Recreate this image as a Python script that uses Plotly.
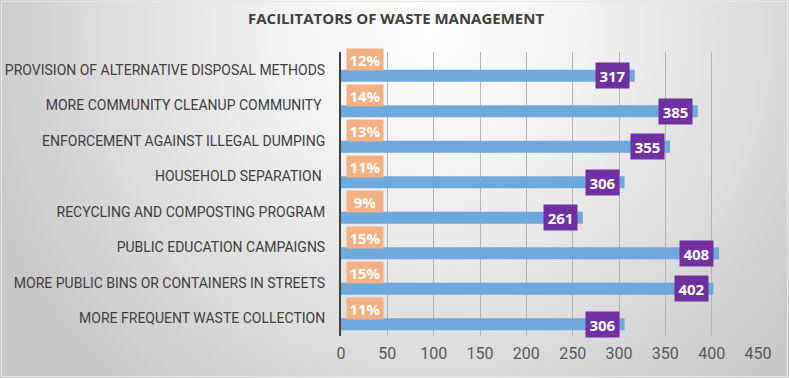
import base64
import plotly.graph_objects as go

categories = [
    "PROVISION OF ALTERNATIVE DISPOSAL METHODS",
    "MORE COMMUNITY CLEANUP COMMUNITY\u00a0",
    "ENFORCEMENT AGAINST ILLEGAL DUMPING",
    "HOUSEHOLD SEPARATION\u00a0",
    "RECYCLING AND COMPOSTING PROGRAM",
    "PUBLIC EDUCATION CAMPAIGNS",
    "MORE PUBLIC BINS OR CONTAINERS IN STREETS",
    "MORE FREQUENT WASTE COLLECTION",
]
counts = [317, 385, 355, 306, 261, 408, 402, 306]
percents = ["12%", "14%", "13%", "11%", "9%", "15%", "15%", "11%"]
x_ticks = [0, 50, 100, 150, 200, 250, 300, 350, 400, 450]

W, H = 789, 378
NARROW = "Roboto, sans-serif"
BOLD = "Open Sans, Liberation Sans, sans-serif"

svg = f'''<svg xmlns="http://www.w3.org/2000/svg" width="{W}" height="{H}" viewBox="0 0 {W} {H}" preserveAspectRatio="none">
<defs><radialGradient id="g" gradientUnits="userSpaceOnUse" cx="430" cy="30" r="470">
<stop offset="0" stop-color="#ffffff"/><stop offset="0.3" stop-color="#f3f3f3"/>
<stop offset="0.7" stop-color="#dcdcdc"/><stop offset="1" stop-color="#c8c8c8"/></radialGradient></defs>
<rect x="0" y="0" width="{W}" height="{H}" fill="url(#g)"/>
<rect x="1.5" y="1.5" width="{W-3}" height="{H-3}" fill="none" stroke="#e6e6e6" stroke-width="1"/>
</svg>'''
bg_uri = "data:image/svg+xml;base64," + base64.b64encode(svg.encode()).decode()

fig = go.Figure()
fig.add_trace(go.Bar(
    y=categories, x=counts, orientation="h",
    marker=dict(color="#6FA8DC", line=dict(width=0)),
    width=0.34, offset=0.0, hoverinfo="x+y",
))

annotations = []
for cat, c, p in zip(categories, counts, percents):
    annotations.append(dict(
        x=0, y=cat, xref="x", yref="y", text=f"<b>{p}</b>", showarrow=False,
        xanchor="left", yanchor="middle", xshift=5, yshift=10,
        bgcolor="#F4B183", font=dict(color="white", size=15, family=BOLD),
        width=34, height=19, borderpad=1,
    ))
    annotations.append(dict(
        x=c, y=cat, xref="x", yref="y", text=f"<b>{c}</b>", showarrow=False,
        xanchor="right", yanchor="middle", xshift=-5, yshift=-6,
        bgcolor="#7030A0", font=dict(color="white", size=15, family=BOLD),
        width=31, height=23, borderpad=1,
    ))
annotations.append(dict(
    x=396 / W, y=1 - 18 / H, xref="paper", yref="paper",
    text="<b>FACILITATORS OF WASTE MANAGEMENT</b>", showarrow=False,
    xanchor="center", yanchor="middle",
    font=dict(color="#404040", size=15, family=BOLD),
))

fig.update_layout(
    width=W, height=H,
    margin=dict(l=0, r=0, t=0, b=0, pad=0, autoexpand=False),
    paper_bgcolor="#e8e8e8", plot_bgcolor="rgba(0,0,0,0)",
    showlegend=False,
    images=[dict(source=bg_uri, xref="paper", yref="paper", x=0, y=1,
                 sizex=1, sizey=1, sizing="stretch", layer="below",
                 xanchor="left", yanchor="top")],
    annotations=annotations,
    xaxis=dict(
        domain=[341 / W, 758 / W], range=[0, 450],
        tickvals=x_ticks, ticktext=[str(v) for v in x_ticks],
        showgrid=True, gridcolor="#b4b4b4", gridwidth=1,
        zeroline=False, showline=False, ticks="", automargin=False,
        tickfont=dict(color="#595959", size=16, family=NARROW),
        ticklabelstandoff=6,
    ),
    yaxis=dict(
        domain=[1 - 336 / H, 1 - 52 / H],
        categoryorder="array", categoryarray=categories,
        range=[len(categories) - 0.5, -0.5],
        showgrid=False, zeroline=False, automargin=False,
        showline=True, linecolor="#404040", linewidth=2,
        ticks="", tickfont=dict(color="#404040", size=14, family=NARROW),
        ticklabelstandoff=11,
    ),
)

fig.write_html(
    "out.html",
    config={"displayModeBar": False},
    post_script="document.body.style.margin='0';document.body.style.overflow='hidden';",
)
